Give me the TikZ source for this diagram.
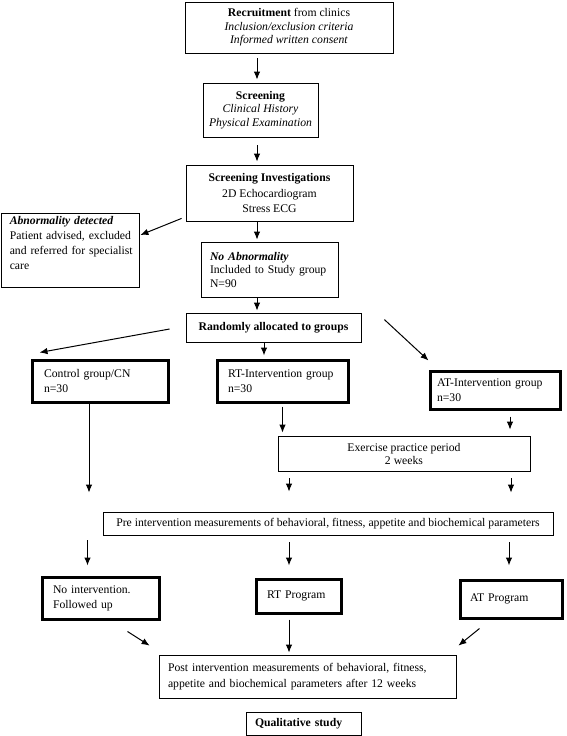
\documentclass[tikz,border=0pt]{standalone}
\usepackage{fontspec}
\setmainfont{Liberation Serif}
\usetikzlibrary{arrows.meta,calc}
\tikzset{
  box/.style={draw, line width=0.8pt, inner sep=0pt, font=\fontsize{11.7}{14}\selectfont},
  heavybox/.style={box, line width=3pt},
  lefttext/.style={align=left},
  arr/.style={-{Latex[length=8pt,width=6.5pt]}, line width=1pt},
}
\begin{document}
\begin{tikzpicture}[x=1pt,y=1pt]
\useasboundingbox (0,0) rectangle (567,-736);

% top chain
\node[box, minimum width=208pt, minimum height=51pt, align=center, font=\fontsize{11.7}{13.5}\selectfont] (rec) at (289,-27.5)
  {\textbf{Recruitment} from clinics\\ \textit{Inclusion/exclusion criteria}\\ \textit{Informed written consent}};
\node[box, minimum width=115pt, minimum height=54pt, align=center, font=\fontsize{11.7}{13.5}\selectfont] (scr) at (260.5,-110)
  {\textbf{Screening}\\ \textit{Clinical History}\\ \textit{Physical Examination}};
\node[box, minimum width=167pt, minimum height=56pt, align=center, font=\fontsize{11.7}{15.5}\selectfont] (si) at (269.5,-193)
  {\textbf{Screening Investigations}\\ 2D Echocardiogram\\ Stress ECG};
\node[box, minimum width=137pt, minimum height=55pt, text width=119pt, inner xsep=9pt, lefttext, font=\fontsize{11.7}{13.5}\selectfont] (noab) at (269.5,-269.5)
  {\textbf{\textit{No Abnormality}}\\ Included to Study group\\ N=90};

% abnormality box
\node[box, minimum width=138pt, minimum height=74pt] (abn) at (70,-250) {};
\node[anchor=north west, lefttext, text width=128pt, inner sep=0pt, font=\fontsize{11.7}{15}\selectfont] (abntext) at ($(abn.north west)+(9,-3.5)$)
  {\textbf{\textit{Abnormality detected}}\\ Patient advised, excluded\\ and referred for specialist\\ care};

\node[box, minimum width=175pt, minimum height=29pt, font=\bfseries\fontsize{11.7}{14}\selectfont] (rand) at (273.5,-327.5) {Randomly allocated to groups};

% groups
\node[heavybox, minimum width=136pt, minimum height=42pt, text width=112pt, inner xsep=12pt, lefttext, font=\fontsize{11.7}{15}\selectfont] (ctrl) at (100,-381)
  {Control group/CN\\ n=30};
\node[heavybox, minimum width=131pt, minimum height=42pt, text width=109pt, inner xsep=11pt, lefttext, font=\fontsize{11.7}{15}\selectfont] (rtg) at (282.5,-381)
  {RT-Intervention group\\ n=30};
\node[heavybox, minimum width=130pt, minimum height=38pt, text width=116pt, inner xsep=7pt, lefttext, font=\fontsize{11.7}{15}\selectfont] (atg) at (495,-390)
  {AT-Intervention group\\ n=30};

\node[box, minimum width=252pt, minimum height=35pt, align=center, font=\fontsize{11.7}{13}\selectfont] (ex) at (404,-453.5)
  {Exercise practice period\\ 2 weeks};

\node[box, minimum width=450pt, minimum height=23pt] (pre) at (328,-523.5)
  {Pre intervention measurements of behavioral, fitness, appetite and biochemical parameters};

\node[heavybox, minimum width=117pt, minimum height=42pt, text width=95pt, inner xsep=11pt, lefttext, font=\fontsize{11.7}{15}\selectfont] (noint) at (100.5,-598)
  {No intervention.\\ Followed up};
\node[heavybox, minimum width=85pt, minimum height=34pt, text width=63pt, inner xsep=11pt, lefttext] (rtp) at (298.5,-596)
  {RT Program};
\node[heavybox, minimum width=102pt, minimum height=38pt, text width=82pt, inner xsep=10pt, lefttext] (atp) at (511,-599)
  {AT Program};

\node[box, minimum width=297pt, minimum height=43pt, text width=279pt, inner xsep=9pt, lefttext, font=\fontsize{11.7}{16}\selectfont] (post) at (307.5,-676.5)
  {Post intervention measurements of behavioral, fitness,\\ appetite and biochemical parameters after 12 weeks};

\node[box, minimum width=115pt, minimum height=23pt, text width=97pt, inner xsep=9pt, lefttext, font=\bfseries\fontsize{11.7}{14}\selectfont] (qual) at (303.5,-723.5)
  {Qualitative study};

% helper x positions
\coordinate (ax) at (257,0);
\coordinate (bx) at (264,0);
\coordinate (cxa) at (510,0);
\coordinate (dxl) at (289,0);
\coordinate (dxr) at (511,0);
\coordinate (exl) at (87.5,0);
\coordinate (exr) at (509,0);

% connectors
\draw[arr, shorten <=5pt, shorten >=3pt] (rec.south -| ax) -- (scr.north -| ax);
\draw[arr, shorten <=8pt, shorten >=3pt] (scr.south -| ax) -- (si.north -| ax);
\draw[arr, shorten >=2pt] (si.south -| ax) -- (noab.north -| ax);
\draw[arr, shorten >=2pt] (noab.south -| ax) -- (rand.north -| ax);
\draw[arr] ($(si.south west)+(-4,3)$) -- ($(abn.east)+(1,15)$);

\draw[arr] ($(rand.west)+(-16,-1.5)$) -- ($(ctrl.north west)+(9,6)$);
\draw[arr, shorten >=3pt] (rand.south -| bx) -- (rtg.north -| bx);
\draw[arr] ($(rand.north east)+(23,-7)$) -- ($(atg.north west)+(0,9)$);

\draw[arr] ($(ctrl.south)+(-11,0)$) -- ($(ctrl.south |- pre.north)+(-11,19)$);
\draw[arr, shorten <=3pt, shorten >=3pt] (rtg.south) -- (rtg.south |- ex.north);
\draw[arr, shorten <=6pt, shorten >=6pt] (atg.south -| cxa) -- (ex.north -| cxa);

\draw[arr, shorten <=7pt, shorten >=20pt] (ex.south -| dxl) -- (pre.north -| dxl);
\draw[arr, shorten <=7pt, shorten >=19pt] (ex.south -| dxr) -- (pre.north -| dxr);

\draw[arr, shorten <=5pt, shorten >=10pt] (pre.south -| exl) -- (noint.north -| exl);
\draw[arr, shorten <=7pt, shorten >=12pt] (pre.south -| dxl) -- (rtp.north -| dxl);
\draw[arr, shorten <=7pt, shorten >=13pt] (pre.south -| exr) -- (atp.north -| exr);

\draw[arr] ($(noint.south east)+(-33,-11)$) -- ($(post.north west)+(-9,9)$);
\draw[arr, shorten <=5pt, shorten >=2pt] (rtp.south -| dxl) -- (post.north -| dxl);
\draw[arr] ($(atp.south west)+(21,-9)$) -- ($(post.north east)+(2,9)$);
\end{tikzpicture}
\end{document}
